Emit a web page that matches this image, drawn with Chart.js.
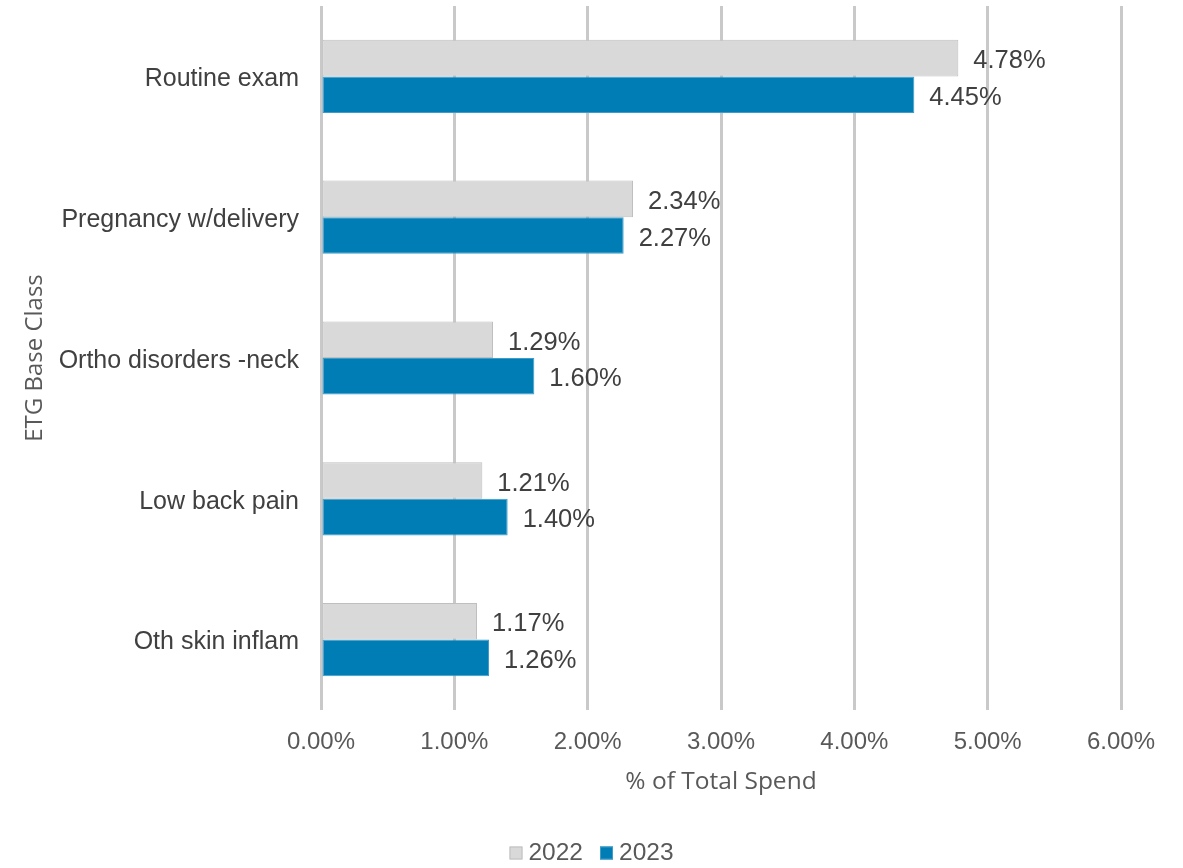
<!DOCTYPE html>
<html>
<head>
<meta charset="utf-8">
<script src="https://cdn.jsdelivr.net/npm/chart.js@4"></script>
<style>
html,body{margin:0;padding:0;background:#fff;}
#wrap{width:1183px;height:868px;position:relative;}
</style>
</head>
<body>
<div id="wrap"><canvas id="c" width="1183" height="868"></canvas></div>
<script>
const categories = ["Routine exam", "Pregnancy w/delivery", "Ortho disorders -neck", "Low back pain", "Oth skin inflam"];
const series2022 = [4.78, 2.34, 1.29, 1.21, 1.17];
const series2023 = [4.45, 2.27, 1.60, 1.40, 1.26];
const xTicks = [0, 1, 2, 3, 4, 5, 6];

const labelPlugin = {
  id: 'valueLabels',
  afterDatasetsDraw(chart) {
    const ctx = chart.ctx;
    ctx.save();
    ctx.font = '25.5px "Liberation Sans", Arial, sans-serif';
    ctx.fillStyle = '#404040';
    ctx.textAlign = 'left';
    ctx.textBaseline = 'middle';
    chart.data.datasets.forEach((ds, di) => {
      const meta = chart.getDatasetMeta(di);
      meta.data.forEach((bar, i) => {
        ctx.fillText(ds.data[i].toFixed(2) + '%', bar.x + 15, bar.y + 3);
      });
    });
    ctx.restore();
  }
};

const legendPlugin = {
  id: 'customLegend',
  afterDraw(chart) {
    const ctx = chart.ctx;
    ctx.save();
    ctx.font = '24.5px "Liberation Sans", Arial, sans-serif';
    ctx.textBaseline = 'middle';
    ctx.textAlign = 'left';
    const box = 13, gapText = 6, gapItem = 17, cy = 853;
    const items = chart.data.datasets.map(ds => ({ text: ds.label, fill: ds.backgroundColor, stroke: ds.borderColor }));
    let total = 0;
    items.forEach((it, i) => { it.w = box + gapText + ctx.measureText(it.text).width; total += it.w + (i ? gapItem : 0); });
    let x = chart.width / 2 - total / 2;
    items.forEach(it => {
      ctx.fillStyle = it.fill;
      ctx.fillRect(x, cy - box / 2, box, box);
      ctx.strokeStyle = it.stroke; ctx.lineWidth = 1;
      ctx.strokeRect(x + 0.5, cy - box / 2 + 0.5, box - 1, box - 1);
      ctx.fillStyle = '#595959';
      ctx.fillText(it.text, x + box + gapText, cy);
      x += it.w + gapItem;
    });
    ctx.restore();
  }
};

Chart.defaults.animation = false;
new Chart(document.getElementById('c'), {
  type: 'bar',
  data: {
    labels: categories,
    datasets: [
      { label: '2022', data: series2022, backgroundColor: '#d9d9d9', borderColor: '#bfbfbf', borderWidth: 1, borderSkipped: false, categoryPercentage: 0.52, barPercentage: 1 },
      { label: '2023', data: series2023, backgroundColor: '#007db5', borderColor: '#3f9cc8', borderWidth: 1, borderSkipped: false, categoryPercentage: 0.52, barPercentage: 1 }
    ]
  },
  options: {
    indexAxis: 'y',
    responsive: false,
    layout: { padding: { top: 6, right: 62, left: 0, bottom: 37 } },
    scales: {
      x: {
        min: 0, max: 6,
        afterBuildTicks(scale) { scale.ticks = xTicks.map(v => ({ value: v })); },
        grid: { color: '#c9c9c9', lineWidth: 3, drawTicks: false },
        border: { display: false },
        ticks: {
          padding: 18,
          color: '#595959',
          font: { family: '"Liberation Sans", Arial, sans-serif', size: 24 },
          callback: v => Number(v).toFixed(2) + '%'
        },
        title: {
          display: true, text: '% of Total Spend', color: '#595959',
          font: { family: '"Open Sans", sans-serif', size: 24.5 },
          padding: { top: 0, bottom: 34 }
        },
        afterFit(scale) { scale.height = 121; scale.paddingLeft = 0; scale.paddingRight = 0; }
      },
      y: {
        grid: { display: false, drawTicks: false },
        border: { display: false },
        ticks: {
          padding: 22,
          labelOffset: 3,
          color: '#404040',
          font: { family: '"Liberation Sans", Arial, sans-serif', size: 25 }
        },
        title: {
          display: true, text: 'ETG Base Class', color: '#595959',
          font: { family: '"Open Sans", sans-serif', size: 24 },
          padding: { top: 21, bottom: 0 }
        },
        afterFit(scale) { scale.width = 321; scale.paddingTop = 0; scale.paddingBottom = 0; }
      }
    },
    plugins: {
      legend: { display: false },
      tooltip: { enabled: false }
    }
  },
  plugins: [labelPlugin, legendPlugin]
});
</script>
</body>
</html>
